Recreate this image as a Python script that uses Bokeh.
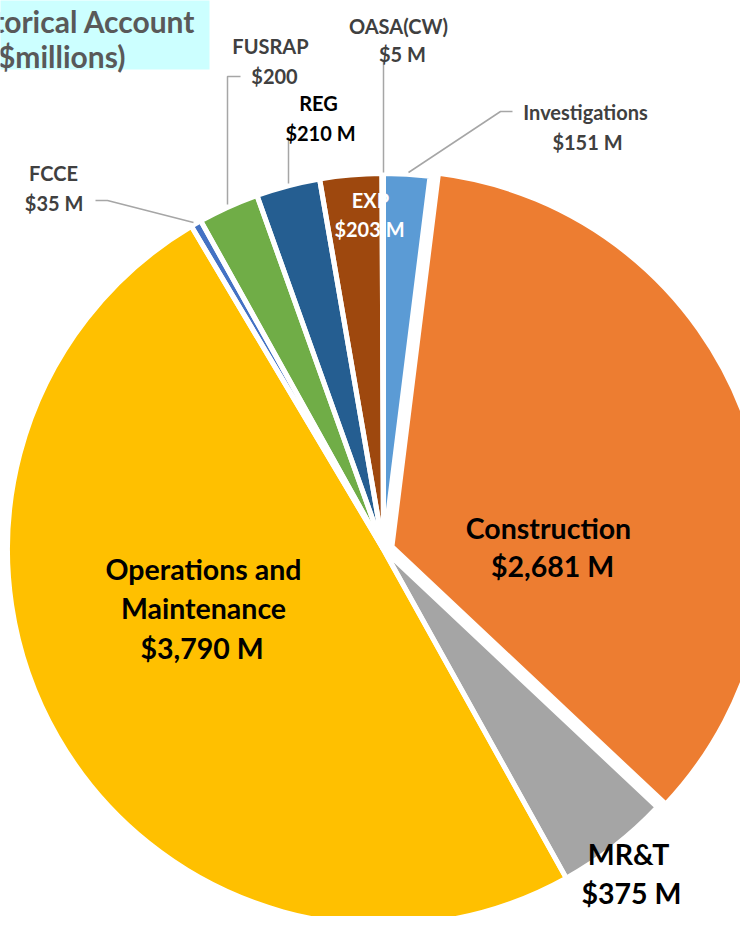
import numpy as np
from bokeh.plotting import figure
from bokeh.models import Range1d, ColumnDataSource
from bokeh.core.properties import value
from bokeh.embed import file_html
from bokeh.resources import INLINE

# ---- data ----
categories = ["Investigations", "Construction", "MR&T", "Operations and Maintenance",
              "FCCE", "FUSRAP", "REG", "EXP", "OASA(CW)"]
amounts = [151, 2681, 375, 3790, 35, 200, 210, 203, 5]
colors = ["#5B9BD5", "#ED7D31", "#A5A5A5", "#FFC000", "#4472C4",
          "#70AD47", "#255E91", "#9E480E", "#636363"]
explode = [0, 9, 0, 0, 0, 0, 0, 0, 0]

title_lines = ["Historical Account", "($millions)"]

# label texts (lines) for each category
label_lines = {
    "Investigations": ["Investigations", "$151 M"],
    "Construction": ["Construction", "$2,681 M"],
    "MR&T": ["MR&T", "$375 M"],
    "Operations and Maintenance": ["Operations and", "Maintenance", "$3,790  M"],
    "FCCE": ["FCCE", "$35  M"],
    "FUSRAP": ["FUSRAP", "$200"],
    "REG": ["REG", "$210 M"],
    "EXP": ["EXP", "$203 M"],
    "OASA(CW)": ["OASA(CW)", "$5 M"],
}

# ---- layout (reference pixel coordinates, y from top) ----
W, H = 740, 916
IMG_H = 932


def Y(py):
    return IMG_H - py


CX, CY, R = 383, 549, 376

SMALL, BIG = "20px", "28.5px"
# label layout: list of (center x, baseline y) per line, font size, color
label_layout = {
    "Investigations": ([(585, 111), (587, 141)], SMALL, "#404040"),
    "Construction": ([(548, 527), (552, 565)], BIG, "#000000"),
    "MR&T": ([(628, 853), (631, 892)], BIG, "#000000"),
    "Operations and Maintenance": ([(203, 568), (203, 607), (205, 647)], BIG, "#000000"),
    "FCCE": ([(53, 172), (56, 202)], SMALL, "#404040"),
    "FUSRAP": ([(270, 45), (274, 75)], SMALL, "#404040"),
    "REG": ([(318, 102), (320, 132)], SMALL, "#000000"),
    "EXP": ([(370, 199), (369, 228)], SMALL, "#FFFFFF"),
    "OASA(CW)": ([(398, 25), (402, 53)], SMALL, "#404040"),
}

leaders = [
    [(383, 60), (383, 172)],
    [(240, 76), (227, 76), (227, 204)],
    [(288, 137), (288, 183)],
    [(512, 111), (500, 111), (408, 172)],
    [(95, 200), (107, 200), (193, 222)],
]

p = figure(width=W, height=H, x_range=Range1d(0, W), y_range=Range1d(IMG_H - H, IMG_H),
           output_backend="svg", toolbar_location=None, min_border=0,
           x_axis_location=None, y_axis_location=None)
p.grid.visible = False
p.outline_line_color = None
p.background_fill_color = "white"
p.border_fill_color = "white"

# title box
p.quad(left=[-5], right=[209], top=[Y(-5)], bottom=[Y(69)],
       fill_color="#CCFFFF", line_color=None)
p.text(x=[195, 125], y=[Y(20), Y(55)], text=title_lines,
       text_align="right", text_baseline="alphabetic",
       text_font=value("Lato"), text_font_style="bold",
       text_font_size="30px", text_color="#595959")

# pie wedges
vals = np.array(amounts, dtype=float)
total = vals.sum()
c1 = np.cumsum(vals) / total
c0 = c1 - vals / total
start = np.pi / 2 - 2 * np.pi * c1
end = np.pi / 2 - 2 * np.pi * c0
mid = (start + end) / 2
ex = np.array(explode, dtype=float)
xs = CX + ex * np.cos(mid)
ys = Y(CY) + ex * np.sin(mid)

src = ColumnDataSource(dict(x=xs, y=ys, start=start, end=end, color=colors,
                            cat=categories))
# fills first
p.wedge(x="x", y="y", radius=R, start_angle="start", end_angle="end",
        fill_color="color", line_color="color", line_width=1, source=src)


def draw_label(cat):
    pts, fs, col = label_layout[cat]
    lines = label_lines[cat]
    p.text(x=[pt[0] for pt in pts], y=[Y(pt[1]) for pt in pts], text=lines,
           text_align="center", text_baseline="alphabetic",
           text_font=value("Lato"), text_font_style="bold",
           text_font_size=fs, text_color=col)


# EXP label sits under the slice separators
draw_label("EXP")

# white separators on top
p.wedge(x="x", y="y", radius=R, start_angle="start", end_angle="end",
        fill_color=None, line_color="white", line_width=5, source=src)

# leader lines
p.multi_line(xs=[[pt[0] for pt in L] for L in leaders],
             ys=[[Y(pt[1]) for pt in L] for L in leaders],
             line_color="#A6A6A6", line_width=1.5)

# labels
for cat in categories:
    if cat != "EXP":
        draw_label(cat)

open("out.html", "w").write(file_html(p, INLINE))
